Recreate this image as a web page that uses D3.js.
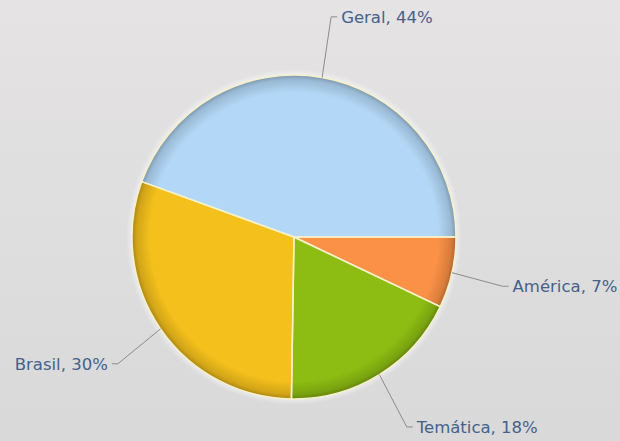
<!DOCTYPE html>
<html><head><meta charset="utf-8">
<script src="https://cdn.jsdelivr.net/npm/d3@7"></script>
<style>html,body{margin:0;padding:0;background:#dfdfdf;}svg{display:block;}</style>
</head><body>
<script>
const categories = ["América", "Temática", "Brasil", "Geral"];
const values = [7, 18, 30, 44];
const colors = ["#fb9146", "#8dbd12", "#f4c01c", "#b3d8f7"];

const W = 620, H = 441, cx = 294, cy = 237, R = 162;
const svg = d3.select("body").append("svg").attr("width", W).attr("height", H);
const defs = svg.append("defs");

const bg = defs.append("linearGradient").attr("id", "bg").attr("x1", 0).attr("y1", 0).attr("x2", 0).attr("y2", 1);
bg.append("stop").attr("offset", "0%").attr("stop-color", "#e5e3e3");
bg.append("stop").attr("offset", "100%").attr("stop-color", "#d9d9d9");
svg.append("rect").attr("width", W).attr("height", H).attr("fill", "url(#bg)");

const rim = defs.append("radialGradient").attr("id", "rim").attr("gradientUnits", "userSpaceOnUse")
  .attr("cx", 0).attr("cy", 0).attr("r", R);
rim.append("stop").attr("offset", "0.89").attr("stop-color", "#000").attr("stop-opacity", 0);
rim.append("stop").attr("offset", "0.97").attr("stop-color", "#000").attr("stop-opacity", 0.14);
rim.append("stop").attr("offset", "1").attr("stop-color", "#000").attr("stop-opacity", 0.3);

const halo = defs.append("radialGradient").attr("id", "halo").attr("gradientUnits", "userSpaceOnUse")
  .attr("cx", 0).attr("cy", 0).attr("r", R + 6);
halo.append("stop").attr("offset", (R - 2) / (R + 6)).attr("stop-color", "#fff").attr("stop-opacity", 0.6);
halo.append("stop").attr("offset", "1").attr("stop-color", "#fff").attr("stop-opacity", 0);

const g = svg.append("g").attr("transform", `translate(${cx},${cy})`);
g.append("circle").attr("r", R + 6).attr("fill", "url(#halo)");

const pie = d3.pie().sort(null).value(d => d.v)
  .startAngle(Math.PI / 2).endAngle(Math.PI / 2 + 2 * Math.PI);
const data = pie(categories.map((c, i) => ({ c, v: values[i], col: colors[i] })));
const arc = d3.arc().innerRadius(0).outerRadius(R);

g.selectAll("path.slice").data(data).join("path").attr("class", "slice")
  .attr("d", arc).attr("fill", d => d.data.col);
g.selectAll("path.rim").data(data).join("path").attr("class", "rim")
  .attr("d", arc).attr("fill", "url(#rim)");
g.selectAll("path.sep").data(data).join("path").attr("class", "sep")
  .attr("d", arc).attr("fill", "none").attr("stroke", "#f6f1c8").attr("stroke-width", 1.5)
  .attr("stroke-linejoin", "round");

const outerX = R * 1.32, outerY = R * 1.38;
const lab = svg.append("g").attr("transform", `translate(${cx},${cy})`);
data.forEach(d => {
  const a = (d.startAngle + d.endAngle) / 2 - Math.PI / 2;
  const x0 = Math.cos(a) * R, y0 = Math.sin(a) * R;
  const x1 = Math.cos(a) * outerX, y1 = Math.sin(a) * outerY;
  const right = x1 >= 0;
  const x2 = x1 + (right ? 6 : -6);
  lab.append("path").attr("d", `M${x0},${y0}L${x1},${y1}L${x2},${y1}`)
    .attr("fill", "none").attr("stroke", "#8a8c90").attr("stroke-width", 1);
  lab.append("text").attr("x", x2 + (right ? 4 : -4)).attr("y", y1)
    .attr("dy", "0.35em").attr("text-anchor", right ? "start" : "end")
    .attr("font-family", "DejaVu Sans, sans-serif").attr("font-size", 16.5)
    .attr("fill", "#44618a")
    .text(`${d.data.c}, ${Math.round(d.data.v)}%`);
});
</script>
</body></html>
